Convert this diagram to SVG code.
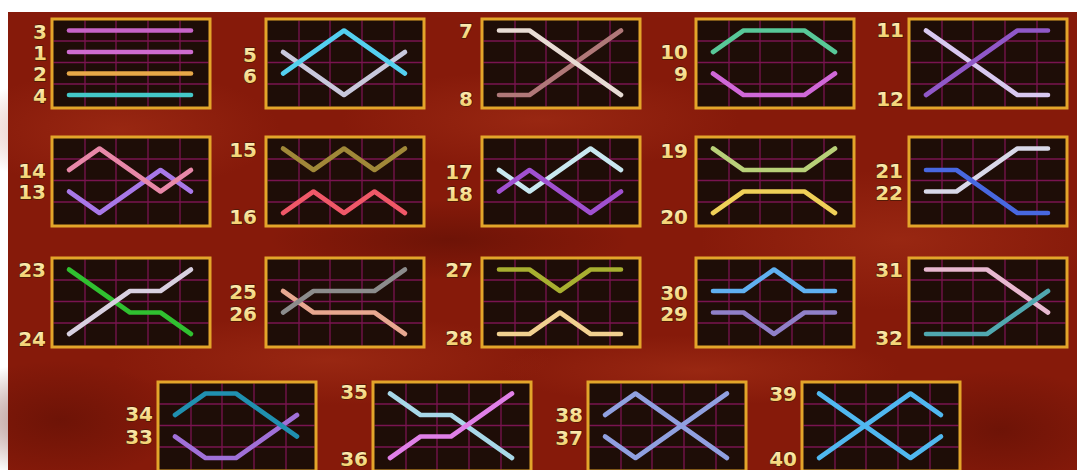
<svg xmlns="http://www.w3.org/2000/svg" xmlns:xlink="http://www.w3.org/1999/xlink" width="1077" height="470" viewBox="0 0 1077 470">
<defs>
<style>
.lbl{font-family:"DejaVu Sans","Liberation Sans",sans-serif;font-weight:bold;font-size:20px;fill:url(#lg);stroke:#4a1a06;stroke-width:1.3px;paint-order:stroke fill;text-anchor:end}
.pl{fill:none;stroke-width:4.6;stroke-linecap:round;stroke-linejoin:round}
.grid{stroke:#7a1450;stroke-width:1.3}
</style>
<linearGradient id="lg" x1="0" y1="0" x2="0" y2="1">
<stop offset="0" stop-color="#fff4c8"/>
<stop offset="1" stop-color="#f0c858"/>
</linearGradient>
<radialGradient id="hl" cx="0.5" cy="0.5" r="0.5">
<stop offset="0" stop-color="#a83218" stop-opacity="0.55"/>
<stop offset="1" stop-color="#a83218" stop-opacity="0"/>
</radialGradient>
<radialGradient id="dk" cx="0.5" cy="0.5" r="0.5">
<stop offset="0" stop-color="#5a0e04" stop-opacity="0.55"/>
<stop offset="1" stop-color="#5a0e04" stop-opacity="0"/>
</radialGradient>
<g id="panel">
<rect x="0" y="0" width="158" height="89" fill="#1e0d07"/>
<g class="grid">
<line x1="33" y1="1.5" x2="33" y2="87.5"/>
<line x1="64" y1="1.5" x2="64" y2="87.5"/>
<line x1="96" y1="1.5" x2="96" y2="87.5"/>
<line x1="128" y1="1.5" x2="128" y2="87.5"/>
<line x1="1.5" y1="22" x2="156.5" y2="22"/>
<line x1="1.5" y1="43.5" x2="156.5" y2="43.5"/>
<line x1="1.5" y1="65" x2="156.5" y2="65"/>
</g>
<rect x="0" y="0" width="158" height="89" fill="none" stroke="#e3a52a" stroke-width="3"/>
</g>
</defs>
<rect x="0" y="0" width="1077" height="470" fill="#ffffff"/>
<rect x="8" y="12" width="1069" height="458" fill="#861a0a"/>
<g id="background-texture">
<ellipse cx="120" cy="130" rx="160" ry="60" fill="url(#hl)"/>
<ellipse cx="540" cy="120" rx="200" ry="50" fill="url(#hl)"/>
<ellipse cx="900" cy="240" rx="200" ry="70" fill="url(#hl)"/>
<ellipse cx="330" cy="360" rx="220" ry="45" fill="url(#hl)"/>
<ellipse cx="700" cy="370" rx="200" ry="35" fill="url(#hl)"/>
<ellipse cx="60" cy="420" rx="120" ry="60" fill="url(#dk)"/>
<ellipse cx="1000" cy="430" rx="120" ry="60" fill="url(#dk)"/>
<ellipse cx="450" cy="240" rx="180" ry="40" fill="url(#dk)"/>
</g>

<g id="box-1" transform="translate(52,19)">
<use href="#panel"/>
<polyline class="pl" stroke="#c864c8" points="17,11.5 139,11.5"/>
<polyline class="pl" stroke="#cf6ccf" points="17,33 139,33"/>
<polyline class="pl" stroke="#e8a848" points="17,54.5 139,54.5"/>
<polyline class="pl" stroke="#44c8c8" points="17,76 139,76"/>
<text class="lbl" x="-5" y="20">3</text>
<text class="lbl" x="-5" y="41">1</text>
<text class="lbl" x="-5" y="62">2</text>
<text class="lbl" x="-5" y="84">4</text>
</g>

<g id="box-2" transform="translate(266,19)">
<use href="#panel"/>
<polyline class="pl" stroke="#c8c8dc" points="17,33 47.5,54.5 78,76 108.5,54.5 139,33"/>
<polyline class="pl" stroke="#54d0f0" points="17,54.5 47.5,33 78,11.5 108.5,33 139,54.5"/>
<text class="lbl" x="-9" y="43">5</text>
<text class="lbl" x="-9" y="64">6</text>
</g>

<g id="box-3" transform="translate(482,19)">
<use href="#panel"/>
<polyline class="pl" stroke="#b07878" points="17,76 47.5,76 78,54.5 108.5,33 139,11.5"/>
<polyline class="pl" stroke="#e8dcd4" points="17,11.5 47.5,11.5 78,33 108.5,54.5 139,76"/>
<text class="lbl" x="-9" y="19">7</text>
<text class="lbl" x="-9" y="87">8</text>
</g>

<g id="box-4" transform="translate(696,19)">
<use href="#panel"/>
<polyline class="pl" stroke="#58c898" points="17,33 47.5,11.5 78,11.5 108.5,11.5 139,33"/>
<polyline class="pl" stroke="#d068d8" points="17,54.5 47.5,76 78,76 108.5,76 139,54.5"/>
<text class="lbl" x="-8" y="40">10</text>
<text class="lbl" x="-8" y="62">9</text>
</g>

<g id="box-5" transform="translate(909,19)">
<use href="#panel"/>
<polyline class="pl" stroke="#d8c8f0" points="17,11.5 47.5,33 78,54.5 108.5,76 139,76"/>
<polyline class="pl" stroke="#9058c8" points="17,76 47.5,54.5 78,33 108.5,11.5 139,11.5"/>
<text class="lbl" x="-5" y="18">11</text>
<text class="lbl" x="-5" y="87">12</text>
</g>

<g id="box-6" transform="translate(52,137)">
<use href="#panel"/>
<polyline class="pl" stroke="#a878e8" points="17,54.5 47.5,76 78,54.5 108.5,33 139,54.5"/>
<polyline class="pl" stroke="#e888a8" points="17,33 47.5,11.5 78,33 108.5,54.5 139,33"/>
<text class="lbl" x="-6" y="41">14</text>
<text class="lbl" x="-6" y="62">13</text>
</g>

<g id="box-7" transform="translate(266,137)">
<use href="#panel"/>
<polyline class="pl" stroke="#a08838" points="17,11.5 47.5,33 78,11.5 108.5,33 139,11.5"/>
<polyline class="pl" stroke="#f05868" points="17,76 47.5,54.5 78,76 108.5,54.5 139,76"/>
<text class="lbl" x="-9" y="20">15</text>
<text class="lbl" x="-9" y="87">16</text>
</g>

<g id="box-8" transform="translate(482,137)">
<use href="#panel"/>
<polyline class="pl" stroke="#c8e8f0" points="17,33 47.5,54.5 78,33 108.5,11.5 139,33"/>
<polyline class="pl" stroke="#a050d0" points="17,54.5 47.5,33 78,54.5 108.5,76 139,54.5"/>
<text class="lbl" x="-9" y="42">17</text>
<text class="lbl" x="-9" y="64">18</text>
</g>

<g id="box-9" transform="translate(696,137)">
<use href="#panel"/>
<polyline class="pl" stroke="#b8d078" points="17,11.5 47.5,33 78,33 108.5,33 139,11.5"/>
<polyline class="pl" stroke="#f0d058" points="17,76 47.5,54.5 78,54.5 108.5,54.5 139,76"/>
<text class="lbl" x="-8" y="21">19</text>
<text class="lbl" x="-8" y="87">20</text>
</g>

<g id="box-10" transform="translate(909,137)">
<use href="#panel"/>
<polyline class="pl" stroke="#d8d8e8" points="17,54.5 47.5,54.5 78,33 108.5,11.5 139,11.5"/>
<polyline class="pl" stroke="#4868e0" points="17,33 47.5,33 78,54.5 108.5,76 139,76"/>
<text class="lbl" x="-6" y="41">21</text>
<text class="lbl" x="-6" y="63">22</text>
</g>

<g id="box-11" transform="translate(52,258)">
<use href="#panel"/>
<polyline class="pl" stroke="#30c030" points="17,11.5 47.5,33 78,54.5 108.5,54.5 139,76"/>
<polyline class="pl" stroke="#d8d0e0" points="17,76 47.5,54.5 78,33 108.5,33 139,11.5"/>
<text class="lbl" x="-6" y="19">23</text>
<text class="lbl" x="-6" y="88">24</text>
</g>

<g id="box-12" transform="translate(266,258)">
<use href="#panel"/>
<polyline class="pl" stroke="#e8a890" points="17,33 47.5,54.5 78,54.5 108.5,54.5 139,76"/>
<polyline class="pl" stroke="#8c8c8c" points="17,54.5 47.5,33 78,33 108.5,33 139,11.5"/>
<text class="lbl" x="-9" y="41">25</text>
<text class="lbl" x="-9" y="63">26</text>
</g>

<g id="box-13" transform="translate(482,258)">
<use href="#panel"/>
<polyline class="pl" stroke="#a8b030" points="17,11.5 47.5,11.5 78,33 108.5,11.5 139,11.5"/>
<polyline class="pl" stroke="#f0d090" points="17,76 47.5,76 78,54.5 108.5,76 139,76"/>
<text class="lbl" x="-9" y="19">27</text>
<text class="lbl" x="-9" y="87">28</text>
</g>

<g id="box-14" transform="translate(696,258)">
<use href="#panel"/>
<polyline class="pl" stroke="#60b0f0" points="17,33 47.5,33 78,11.5 108.5,33 139,33"/>
<polyline class="pl" stroke="#9080c8" points="17,54.5 47.5,54.5 78,76 108.5,54.5 139,54.5"/>
<text class="lbl" x="-8" y="42">30</text>
<text class="lbl" x="-8" y="63">29</text>
</g>

<g id="box-15" transform="translate(909,258)">
<use href="#panel"/>
<polyline class="pl" stroke="#e8b8d0" points="17,11.5 47.5,11.5 78,11.5 108.5,33 139,54.5"/>
<polyline class="pl" stroke="#50a8b0" points="17,76 47.5,76 78,76 108.5,54.5 139,33"/>
<text class="lbl" x="-6" y="19">31</text>
<text class="lbl" x="-6" y="87">32</text>
</g>

<g id="box-16" transform="translate(158,382)">
<use href="#panel"/>
<polyline class="pl" stroke="#a070d8" points="17,54.5 47.5,76 78,76 108.5,54.5 139,33"/>
<polyline class="pl" stroke="#2090b0" points="17,33 47.5,11.5 78,11.5 108.5,33 139,54.5"/>
<text class="lbl" x="-5" y="39">34</text>
<text class="lbl" x="-5" y="62">33</text>
</g>

<g id="box-17" transform="translate(373,382)">
<use href="#panel"/>
<polyline class="pl" stroke="#a8d8e8" points="17,11.5 47.5,33 78,33 108.5,54.5 139,76"/>
<polyline class="pl" stroke="#e080e8" points="17,76 47.5,54.5 78,54.5 108.5,33 139,11.5"/>
<text class="lbl" x="-5" y="17">35</text>
<text class="lbl" x="-5" y="84">36</text>
</g>

<g id="box-18" transform="translate(588,382)">
<use href="#panel"/>
<polyline class="pl" stroke="#90a0e0" points="17,33 47.5,11.5 78,33 108.5,54.5 139,76"/>
<polyline class="pl" stroke="#90a0e0" points="17,54.5 47.5,76 78,54.5 108.5,33 139,11.5"/>
<text class="lbl" x="-5" y="40">38</text>
<text class="lbl" x="-5" y="63">37</text>
</g>

<g id="box-19" transform="translate(802,382)">
<use href="#panel"/>
<polyline class="pl" stroke="#50b8f0" points="17,11.5 47.5,33 78,54.5 108.5,76 139,54.5"/>
<polyline class="pl" stroke="#50b8f0" points="17,76 47.5,54.5 78,33 108.5,11.5 139,33"/>
<text class="lbl" x="-5" y="19">39</text>
<text class="lbl" x="-5" y="84">40</text>
</g>
</svg>
